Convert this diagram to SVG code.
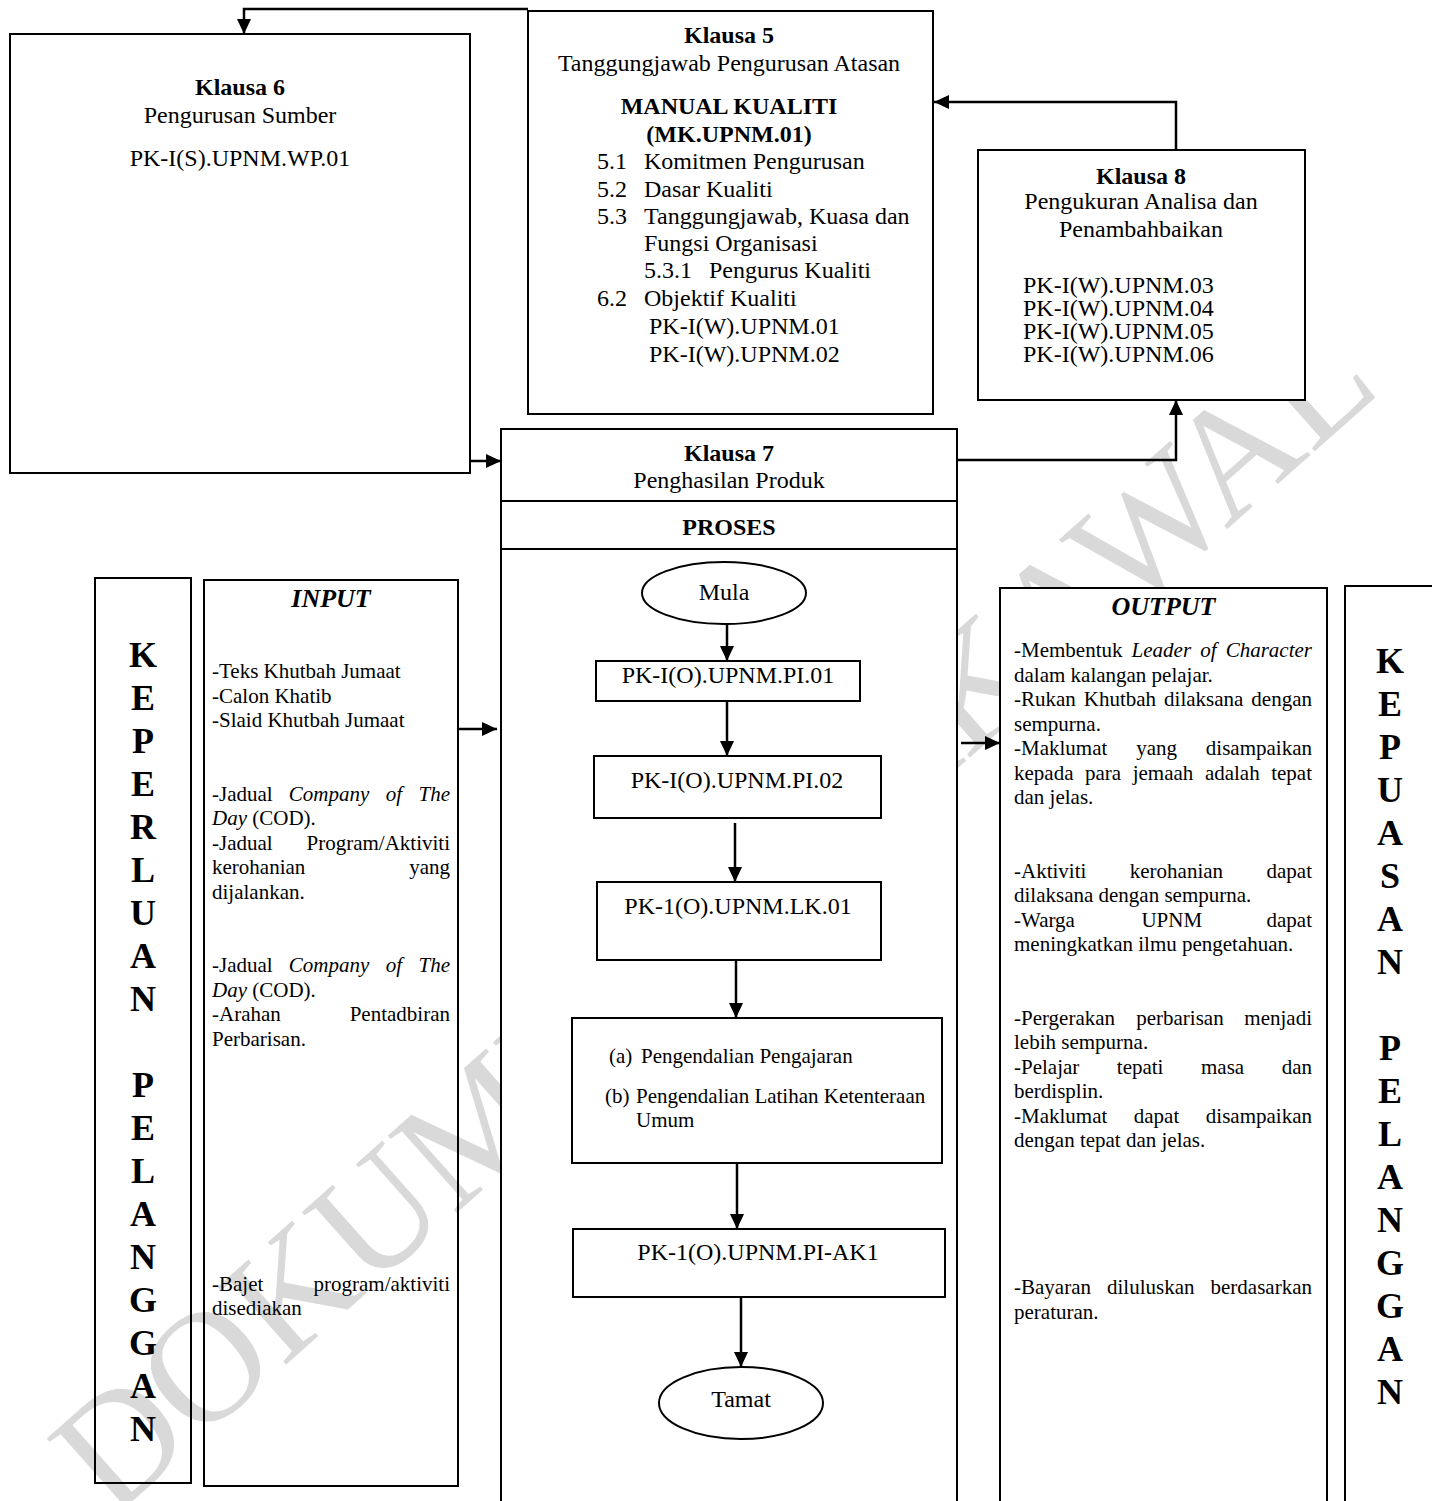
<svg xmlns="http://www.w3.org/2000/svg" width="1432" height="1501" viewBox="0 0 1432 1501">
<defs>
<style>
.bx{fill:none;stroke:#000;stroke-width:2}
.wb{fill:#fff;stroke:#000;stroke-width:2}
.cn{fill:none;stroke:#000;stroke-width:2.5}
.ln{stroke:#000;stroke-width:2}
text{font-family:"Liberation Serif","Times New Roman",serif;font-size:24px;fill:#000}
.b{font-weight:bold}
.i{font-style:italic}
.m{text-anchor:middle}
.e{text-anchor:end}
.s{font-size:21px}
.big{font-size:36px;font-weight:bold;text-anchor:middle}
.ttl{font-size:26px;font-weight:bold;font-style:italic;text-anchor:middle}
.wm{font-family:"Liberation Serif","Times New Roman",serif;font-size:158px;fill:#d9d9d9}
</style>
<marker id="ah" viewBox="0 0 15 14" refX="15" refY="7" markerWidth="15" markerHeight="14" markerUnits="userSpaceOnUse" orient="auto"><path d="M0,0 L15,7 L0,14 z" fill="#000"/></marker>
</defs>
<rect width="1432" height="1501" fill="#fff"/>

<g id="watermark">
<text class="wm" transform="translate(112,1519) rotate(-41.6)">DOKUMEN TERKAWAL</text>
</g>

<g id="klausa6">
<rect class="wb" x="10" y="34" width="460" height="439"/>
<text class="b m" x="240" y="95">Klausa 6</text>
<text class="m" x="240" y="123">Pengurusan Sumber</text>
<text class="m" x="240" y="166">PK-I(S).UPNM.WP.01</text>
</g>

<g id="klausa5">
<rect class="wb" x="528" y="11" width="405" height="403"/>
<text class="b m" x="729" y="43">Klausa 5</text>
<text class="m" x="729" y="71">Tanggungjawab Pengurusan Atasan</text>
<text class="b m" x="729" y="114">MANUAL KUALITI</text>
<text class="b m" x="729" y="142">(MK.UPNM.01)</text>
<text x="597" y="169">5.1</text><text x="644" y="169">Komitmen Pengurusan</text>
<text x="597" y="197">5.2</text><text x="644" y="197">Dasar Kualiti</text>
<text x="597" y="224">5.3</text><text x="644" y="224">Tanggungjawab, Kuasa dan</text>
<text x="644" y="251">Fungsi Organisasi</text>
<text x="644" y="278">5.3.1</text><text x="709" y="278">Pengurus Kualiti</text>
<text x="597" y="306">6.2</text><text x="644" y="306">Objektif Kualiti</text>
<text x="649" y="334">PK-I(W).UPNM.01</text>
<text x="649" y="362">PK-I(W).UPNM.02</text>
</g>

<g id="klausa8">
<rect class="wb" x="978" y="150" width="327" height="250"/>
<text class="b m" x="1141" y="184">Klausa 8</text>
<text class="m" x="1141" y="209">Pengukuran Analisa dan</text>
<text class="m" x="1141" y="237">Penambahbaikan</text>
<text x="1023" y="293">PK-I(W).UPNM.03</text>
<text x="1023" y="316">PK-I(W).UPNM.04</text>
<text x="1023" y="339">PK-I(W).UPNM.05</text>
<text x="1023" y="362">PK-I(W).UPNM.06</text>
</g>

<g id="klausa7">
<rect class="wb" x="501" y="429" width="456" height="1090"/>
<line class="ln" x1="501" y1="501" x2="957" y2="501"/>
<line class="ln" x1="501" y1="549" x2="957" y2="549"/>
<text class="b m" x="729" y="461">Klausa 7</text>
<text class="m" x="729" y="488">Penghasilan Produk</text>
<text class="b m" x="729" y="535">PROSES</text>
</g>

<g id="mula">
<ellipse class="bx" cx="724" cy="593" rx="82" ry="31"/>
<text class="m" x="724" y="600">Mula</text>
</g>
<g id="pi01">
<rect class="bx" x="596" y="661" width="264" height="40"/>
<text class="m" x="728" y="683">PK-I(O).UPNM.PI.01</text>
</g>
<g id="pi02">
<rect class="bx" x="594" y="756" width="287" height="62"/>
<text class="m" x="737" y="788">PK-I(O).UPNM.PI.02</text>
</g>
<g id="lk01">
<rect class="bx" x="597" y="882" width="284" height="78"/>
<text class="m" x="738" y="914">PK-1(O).UPNM.LK.01</text>
</g>
<g id="pengendalian">
<rect class="bx" x="572" y="1018" width="370" height="145"/>
<text class="s" x="609" y="1063">(a)</text><text class="s" x="641" y="1063">Pengendalian Pengajaran</text>
<text class="s" x="605" y="1103">(b)</text><text class="s" x="636" y="1103">Pengendalian Latihan Ketenteraan</text>
<text class="s" x="636" y="1127">Umum</text>
</g>
<g id="ak1">
<rect class="bx" x="573" y="1229" width="372" height="68"/>
<text class="m" x="758" y="1260">PK-1(O).UPNM.PI-AK1</text>
</g>
<g id="tamat">
<ellipse class="bx" cx="741" cy="1403" rx="82" ry="36"/>
<text class="m" x="741" y="1407">Tamat</text>
</g>

<g id="keperluan">
<rect class="bx" x="95" y="578" width="96" height="905"/>
<text class="big" x="143" y="667">K</text>
<text class="big" x="143" y="710">E</text>
<text class="big" x="143" y="753">P</text>
<text class="big" x="143" y="796">E</text>
<text class="big" x="143" y="839">R</text>
<text class="big" x="143" y="882">L</text>
<text class="big" x="143" y="925">U</text>
<text class="big" x="143" y="968">A</text>
<text class="big" x="143" y="1011">N</text>
<text class="big" x="143" y="1097">P</text>
<text class="big" x="143" y="1140">E</text>
<text class="big" x="143" y="1183">L</text>
<text class="big" x="143" y="1226">A</text>
<text class="big" x="143" y="1269">N</text>
<text class="big" x="143" y="1312">G</text>
<text class="big" x="143" y="1355">G</text>
<text class="big" x="143" y="1398">A</text>
<text class="big" x="143" y="1441">N</text>
</g>

<g id="input">
<rect class="bx" x="204" y="580" width="254" height="906"/>
<text class="ttl" x="331" y="607">INPUT</text>
<text class="s" x="212" y="678">-Teks Khutbah Jumaat</text>
<text class="s" x="212" y="702.5">-Calon Khatib</text>
<text class="s" x="212" y="727">-Slaid Khutbah Jumaat</text>
<text class="s" x="212" y="800.5">-Jadual</text><text class="s i" x="288.8" y="800.5">Company</text><text class="s i" x="385.8" y="800.5">of</text><text class="s i e" x="450" y="800.5">The</text>
<text class="s" x="212" y="825"><tspan class="i">Day</tspan> (COD).</text>
<text class="s" x="212" y="849.5">-Jadual</text><text class="s e" x="450" y="849.5">Program/Aktiviti</text>
<text class="s" x="212" y="874">kerohanian</text><text class="s e" x="450" y="874">yang</text>
<text class="s" x="212" y="898.5">dijalankan.</text>
<text class="s" x="212" y="972">-Jadual</text><text class="s i" x="288.8" y="972">Company</text><text class="s i" x="385.8" y="972">of</text><text class="s i e" x="450" y="972">The</text>
<text class="s" x="212" y="996.5"><tspan class="i">Day</tspan> (COD).</text>
<text class="s" x="212" y="1021">-Arahan</text><text class="s e" x="450" y="1021">Pentadbiran</text>
<text class="s" x="212" y="1045.5">Perbarisan.</text>
<text class="s" x="212" y="1290.5">-Bajet</text><text class="s e" x="450" y="1290.5">program/aktiviti</text>
<text class="s" x="212" y="1315">disediakan</text>
</g>

<g id="output">
<rect class="wb" x="1000" y="588" width="327" height="930"/>
<text class="ttl" x="1163.5" y="615">OUTPUT</text>
<text class="s" x="1014" y="657">-Membentuk</text><text class="s i" x="1131.6" y="657">Leader</text><text class="s i" x="1200.3" y="657">of</text><text class="s i e" x="1312" y="657">Character</text>
<text class="s" x="1014" y="681.5">dalam kalangan pelajar.</text>
<text class="s" x="1014" y="706">-Rukan</text><text class="s" x="1083.8" y="706">Khutbah</text><text class="s" x="1164.1" y="706">dilaksana</text><text class="s e" x="1312" y="706">dengan</text>
<text class="s" x="1014" y="730.5">sempurna.</text>
<text class="s" x="1014" y="755">-Maklumat</text><text class="s" x="1136.2" y="755">yang</text><text class="s e" x="1312" y="755">disampaikan</text>
<text class="s" x="1014" y="779.5">kepada</text><text class="s" x="1085" y="779.5">para</text><text class="s" x="1132.7" y="779.5">jemaah</text><text class="s" x="1204.9" y="779.5">adalah</text><text class="s e" x="1312" y="779.5">tepat</text>
<text class="s" x="1014" y="804">dan jelas.</text>
<text class="s" x="1014" y="877.5">-Aktiviti</text><text class="s" x="1129.8" y="877.5">kerohanian</text><text class="s e" x="1312" y="877.5">dapat</text>
<text class="s" x="1014" y="902">dilaksana dengan sempurna.</text>
<text class="s" x="1014" y="926.5">-Warga</text><text class="s" x="1141.4" y="926.5">UPNM</text><text class="s e" x="1312" y="926.5">dapat</text>
<text class="s" x="1014" y="951">meningkatkan ilmu pengetahuan.</text>
<text class="s" x="1014" y="1024.5">-Pergerakan</text><text class="s" x="1136.2" y="1024.5">perbarisan</text><text class="s e" x="1312" y="1024.5">menjadi</text>
<text class="s" x="1014" y="1049">lebih sempurna.</text>
<text class="s" x="1014" y="1073.5">-Pelajar</text><text class="s" x="1116.8" y="1073.5">tepati</text><text class="s" x="1201" y="1073.5">masa</text><text class="s e" x="1312" y="1073.5">dan</text>
<text class="s" x="1014" y="1098">berdisplin.</text>
<text class="s" x="1014" y="1122.5">-Maklumat</text><text class="s" x="1133.8" y="1122.5">dapat</text><text class="s e" x="1312" y="1122.5">disampaikan</text>
<text class="s" x="1014" y="1147">dengan tepat dan jelas.</text>
<text class="s" x="1014" y="1294">-Bayaran</text><text class="s" x="1107" y="1294">diluluskan</text><text class="s e" x="1312" y="1294">berdasarkan</text>
<text class="s" x="1014" y="1318.5">peraturan.</text>
</g>

<g id="kepuasan">
<rect class="bx" x="1345" y="586" width="100" height="932"/>
<text class="big" x="1390" y="673">K</text>
<text class="big" x="1390" y="716">E</text>
<text class="big" x="1390" y="759">P</text>
<text class="big" x="1390" y="802">U</text>
<text class="big" x="1390" y="845">A</text>
<text class="big" x="1390" y="888">S</text>
<text class="big" x="1390" y="931">A</text>
<text class="big" x="1390" y="974">N</text>
<text class="big" x="1390" y="1060">P</text>
<text class="big" x="1390" y="1103">E</text>
<text class="big" x="1390" y="1146">L</text>
<text class="big" x="1390" y="1189">A</text>
<text class="big" x="1390" y="1232">N</text>
<text class="big" x="1390" y="1275">G</text>
<text class="big" x="1390" y="1318">G</text>
<text class="big" x="1390" y="1361">A</text>
<text class="big" x="1390" y="1404">N</text>
</g>

<g id="connectors">
<path class="cn" d="M528,9 H244 V34" marker-end="url(#ah)"/>
<path class="cn" d="M470,461 H501" marker-end="url(#ah)"/>
<path class="cn" d="M1176,150 V102 H934" marker-end="url(#ah)"/>
<path class="cn" d="M957,460 H1176 V400" marker-end="url(#ah)"/>
<path class="cn" d="M458,729 H497" marker-end="url(#ah)"/>
<path class="cn" d="M961,743 H1000" marker-end="url(#ah)"/>
<path class="cn" d="M727,624 V661" marker-end="url(#ah)"/>
<path class="cn" d="M727,701 V756" marker-end="url(#ah)"/>
<path class="cn" d="M735,823 V882" marker-end="url(#ah)"/>
<path class="cn" d="M736,960 V1018" marker-end="url(#ah)"/>
<path class="cn" d="M737,1163 V1229" marker-end="url(#ah)"/>
<path class="cn" d="M741,1297 V1367" marker-end="url(#ah)"/>
</g>
</svg>
